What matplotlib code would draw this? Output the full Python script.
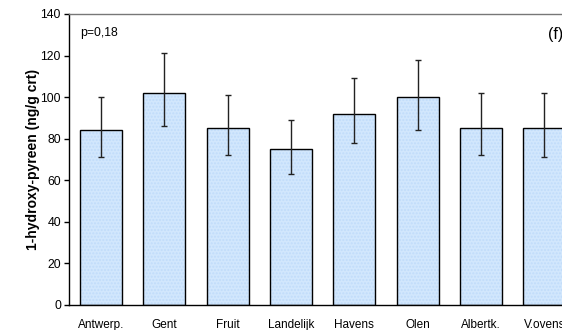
import numpy as np
import matplotlib.pyplot as plt

plt.rcParams['font.family'] = ['Liberation Sans', 'DejaVu Sans']

# ====================
# Data
# ====================
regions = ["Antwerp.", "Gent", "Fruit", "Landelijk", "Havens", "Olen", "Albertk.", "V.ovens"]
means = [84, 102, 85, 75, 92, 100, 85, 85]
ci_low = [71, 86, 72, 63, 78, 84, 72, 71]
ci_high = [100, 121, 101, 89, 109, 118, 102, 102]
yticks = [0, 20, 40, 60, 80, 100, 120, 140]

x = np.arange(len(regions))
means_arr = np.array(means)
yerr = np.vstack([means_arr - np.array(ci_low), np.array(ci_high) - means_arr])

# ====================
# Figure
# ====================
fig = plt.figure(figsize=(5.62, 3.30), dpi=100)
ax = fig.add_axes([0.1233, 0.0758, 1.0249 - 0.1233, 0.9576 - 0.0758])

ax.bar(x, means, width=0.66, color='#d2e7fd', edgecolor='none', zorder=2)
ax.bar(x, means, width=0.66, color='none', edgecolor='#c0dcfa', hatch='.....',
       linewidth=0, zorder=2)
ax.bar(x, means, width=0.66, color='none', edgecolor='black', linewidth=1.0, zorder=3)
ax.errorbar(x, means, yerr=yerr, fmt='none', ecolor='#222222', elinewidth=1.0,
            capsize=2.2, capthick=1.0, zorder=4)

ax.set_xlim(-0.5, len(regions) - 0.5)
ax.set_ylim(0, 140)
ax.set_yticks(yticks)
ax.set_xticks(x)
ax.set_xticklabels(regions, fontsize=8.5)
ax.tick_params(axis='x', length=0, pad=10)
ax.tick_params(axis='y', length=3.5, width=1, labelsize=8.8, pad=2.5)

ax.set_ylabel("1-hydroxy-pyreen (ng/g crt)", fontsize=10, fontweight='bold', labelpad=0)

for side in ['left', 'bottom']:
    ax.spines[side].set_linewidth(1.0)
    ax.spines[side].set_color('black')
ax.spines['top'].set_color('#777777')
ax.spines['top'].set_linewidth(1.0)
ax.spines['right'].set_visible(False)

ax.text(0.021, 0.935, "p=0,18", transform=ax.transAxes, fontsize=8.8, va='center', ha='left')
ax.text(7.06, 130, "(f)", fontsize=11.5, va='center', ha='left')

fig.savefig("out.png", dpi=100)
